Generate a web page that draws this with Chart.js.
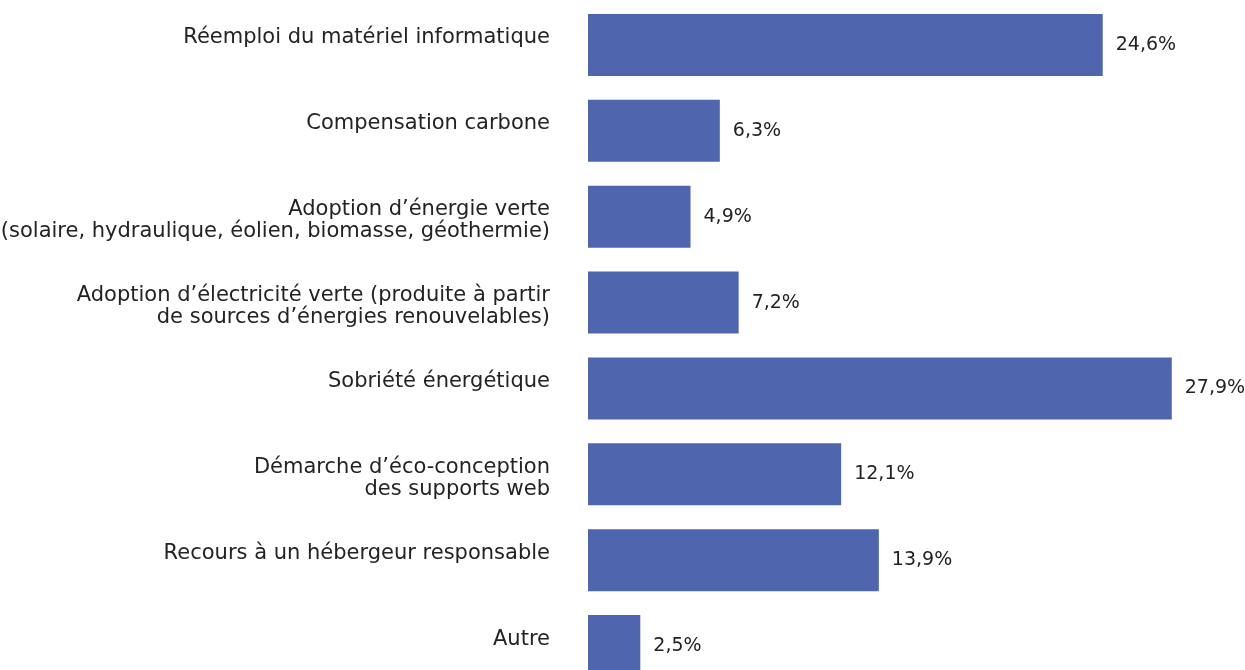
<!DOCTYPE html>
<html>
<head>
<meta charset="utf-8">
<script src="https://cdn.jsdelivr.net/npm/chart.js@4.4.1/dist/chart.umd.min.js"></script>
<style>
  html, body { margin: 0; padding: 0; background: #ffffff; overflow: hidden; }
  #wrap { position: relative; width: 1245px; height: 689px; }
</style>
</head>
<body>
<div id="wrap"><canvas id="c"></canvas></div>
<script>
// ---- Data ----
const categories = [
  ["Réemploi du matériel informatique"],
  ["Compensation carbone"],
  ["", "Adoption d’énergie verte", "(solaire, hydraulique, éolien, biomasse, géothermie)"],
  ["", "Adoption d’électricité verte (produite à partir", "de sources d’énergies renouvelables)"],
  ["Sobriété énergétique"],
  ["", "Démarche d’éco-conception", "des supports web"],
  ["Recours à un hébergeur responsable"],
  ["Autre"]
];
const shares = [24.6, 6.3, 4.9, 7.2, 27.9, 12.1, 13.9, 2.5];

const BAR_COLOR = '#4F66AF';
const TEXT_COLOR = '#232323';
const FONT = '"DejaVu Sans", sans-serif';

const valueLabels = {
  id: 'valueLabels',
  afterDatasetsDraw(chart) {
    const ctx = chart.ctx;
    const meta = chart.getDatasetMeta(0);
    ctx.save();
    ctx.font = '19px ' + FONT;
    ctx.fillStyle = TEXT_COLOR;
    ctx.textAlign = 'left';
    ctx.textBaseline = 'middle';
    meta.data.forEach((bar, i) => {
      const txt = shares[i].toFixed(1).replace('.', ',') + '%';
      ctx.fillText(txt, bar.x + 13, bar.y);
    });
    ctx.restore();
  }
};

new Chart(document.getElementById('c'), {
  type: 'bar',
  data: {
    labels: categories,
    datasets: [{
      data: shares,
      backgroundColor: BAR_COLOR,
      borderWidth: 0,
      barPercentage: 0.722,
      categoryPercentage: 1.0
    }]
  },
  options: {
    indexAxis: 'y',
    responsive: true,
    maintainAspectRatio: false,
    animation: false,
    layout: { padding: { top: 2, left: 0, right: 0, bottom: 0 } },
    plugins: {
      legend: { display: false },
      tooltip: { enabled: false }
    },
    scales: {
      x: {
        display: false,
        min: 0,
        max: 31.4
      },
      y: {
        position: 'left',
        grid: { display: false, drawTicks: false },
        border: { display: false },
        afterFit(scale) {
          scale.width = 588;
          scale.paddingTop = 0;
          scale.paddingBottom = 0;
        },
        ticks: {
          autoSkip: false,
          padding: 38,
          labelOffset: -7,
          color: TEXT_COLOR,
          font: { family: FONT, size: 21, lineHeight: '22px' }
        }
      }
    }
  },
  plugins: [valueLabels]
});
</script>
</body>
</html>
